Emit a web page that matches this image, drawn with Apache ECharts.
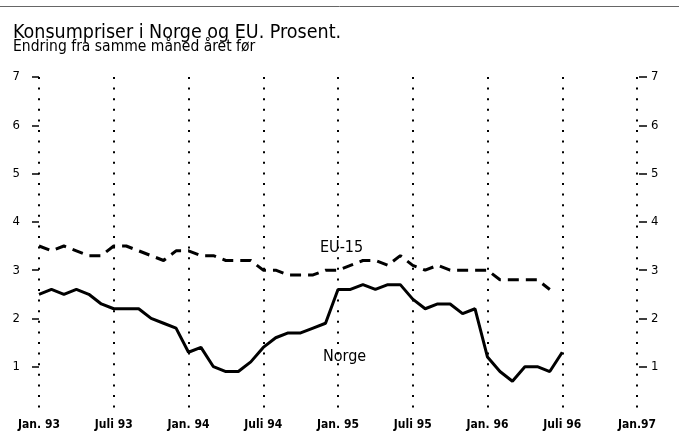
<!doctype html>
<html>
<head>
<meta charset="utf-8" />
<style>
  body { margin: 0; background: #fff; }
  #chart { width: 679px; height: 441px; }
</style>
<script src="https://cdn.jsdelivr.net/npm/echarts@6/dist/echarts.min.js"></script>
</head>
<body>
<div id="chart"></div>
<script>
// months counted from Jan. 93 (0) to Jan. 97 (48)
const tickLabels = ["Jan. 93", "Juli 93", "Jan. 94", "Juli 94", "Jan. 95", "Juli 95", "Jan. 96", "Juli 96", "Jan.97"];
const yTicks = [1, 2, 3, 4, 5, 6, 7];

const norge = [
  2.5, 2.6, 2.5, 2.6, 2.5, 2.3, 2.2, 2.2, 2.2, 2.0, 1.9, 1.8,
  1.3, 1.4, 1.0, 0.9, 0.9, 1.1, 1.4, 1.6, 1.7, 1.7, 1.8, 1.9,
  2.6, 2.6, 2.7, 2.6, 2.7, 2.7, 2.4, 2.2, 2.3, 2.3, 2.1, 2.2,
  1.2, 0.9, 0.7, 1.0, 1.0, 0.9, 1.3
];
const eu15 = [
  3.5, 3.4, 3.5, 3.4, 3.3, 3.3, 3.5, 3.5, 3.4, 3.3, 3.2, 3.4,
  3.4, 3.3, 3.3, 3.2, 3.2, 3.2, 3.0, 3.0, 2.9, 2.9, 2.9, 3.0,
  3.0, 3.1, 3.2, 3.2, 3.1, 3.3, 3.1, 3.0, 3.1, 3.0, 3.0, 3.0,
  3.0, 2.8, 2.8, 2.8, 2.8, 2.6
];

const font = "'Liberation Sans Narrow', 'DejaVu Sans Condensed', 'Liberation Sans', Arial, sans-serif";

const chart = echarts.init(document.getElementById("chart"), null, { renderer: "canvas" });

const yAxisBase = {
  type: "value",
  min: 0,
  max: 7,
  interval: 1,
  offset: 3,
  axisLine: { show: false },
  splitLine: { show: false },
};

chart.setOption({
  animation: false,
  backgroundColor: "#ffffff",
  textStyle: { fontFamily: font },
  grid: { left: 39, right: 42, top: 77, bottom: 26 },
  xAxis: {
    type: "value",
    min: 0,
    max: 48,
    interval: 6,
    axisLine: { show: false },
    axisTick: { show: false },
    splitLine: { show: true, lineStyle: { color: "#000", width: 2, type: [2, 8.6] } },
    axisLabel: {
      margin: 4,
      color: "#000",
      fontFamily: font,
      fontWeight: "bold",
      fontSize: 12,
      formatter: (v) => tickLabels[v / 6] ?? "",
    },
  },
  yAxis: [
    Object.assign({}, yAxisBase, {
      position: "left",
      axisTick: { show: true, length: 7, customValues: yTicks, lineStyle: { color: "#000", width: 1.5 } },
      axisLabel: {
        margin: 16, color: "#000", fontFamily: font, fontSize: 13,
        customValues: yTicks,
      },
    }),
    Object.assign({}, yAxisBase, {
      position: "right",
      offset: 2,
      axisTick: { show: true, length: 8, customValues: yTicks, lineStyle: { color: "#000", width: 1.5 } },
      axisLabel: {
        margin: 12, color: "#000", fontFamily: font, fontSize: 13,
        customValues: yTicks,
      },
    }),
  ],
  series: [
    {
      name: "EU-15",
      type: "line",
      data: eu15.map((v, i) => [i, v]),
      symbol: "none",
      lineStyle: { color: "#000", width: 3, type: [11, 7] },
    },
    {
      name: "Norge",
      type: "line",
      data: norge.map((v, i) => [i, v]),
      symbol: "none",
      lineStyle: { color: "#000", width: 3 },
    },
  ],
  graphic: [
    { type: "line", shape: { x1: 0, y1: 6.5, x2: 679, y2: 6.5 }, style: { stroke: "#666", lineWidth: 1 } },
    {
      type: "text", left: 13, top: 23,
      style: { text: "Konsumpriser i Norge og EU. Prosent.", fill: "#000", font: "19.5px " + font },
    },
    {
      type: "text", left: 13, top: 39,
      style: { text: "Endring fra samme måned året før", fill: "#000", font: "15.5px " + font },
    },
    {
      type: "text", left: 320, top: 240,
      style: { text: "EU-15", fill: "#000", font: "16px " + font },
    },
    {
      type: "text", left: 323, top: 349,
      style: { text: "Norge", fill: "#000", font: "16px " + font },
    },
  ],
});
</script>
</body>
</html>
